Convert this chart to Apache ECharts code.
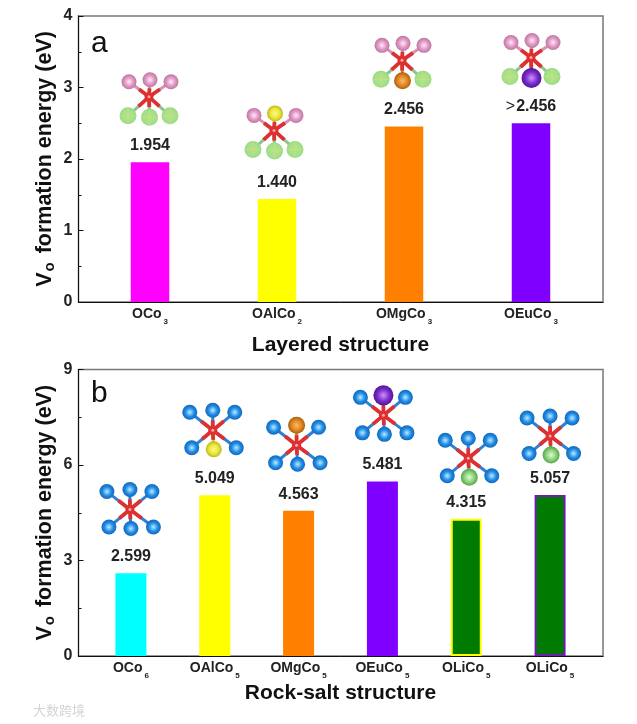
<!DOCTYPE html>
<html><head><meta charset="utf-8">
<style>html,body{margin:0;padding:0;background:#fff}#c{width:637px;height:724px}</style>
<script src="https://cdn.jsdelivr.net/npm/echarts@6/dist/echarts.min.js"></script>
</head><body><div id="c"></div>
<script>
const layeredCategories = ['OCo{s|3}', 'OAlCo{s|2}', 'OMgCo{s|3}', 'OEuCo{s|3}'];
const layeredValues = [1.954, 1.440, 2.456, 2.5];
const layeredLabels = ['1.954', '1.440', '2.456', '>2.456'];
const layeredColors = ['#ff00ff', '#ffff00', '#ff8000', '#8000ff'];
const layeredIconY = [2.87, 2.40, 3.38, 3.42];
const layeredIconDx = [-1, -3, -2, 0];
const layeredDopant = [null, ['top', 'yellow'], ['bottom', 'orange'], ['bottom', 'purple']];

const rockCategories = ['OCo{s|6}', 'OAlCo{s|5}', 'OMgCo{s|5}', 'OEuCo{s|5}', 'OLiCo{s|5}', 'OLiCo{s|5}'];
const rockValues = [2.599, 5.049, 4.563, 5.481, 4.315, 5.057];
const rockLabels = ['2.599', '5.049', '4.563', '5.481', '4.315', '5.057'];
const rockColors = ['#00ffff', '#ffff00', '#ff8000', '#8000ff', '#007a00', '#007a00'];
const rockBorders = [null, null, null, null, '#ffff00', '#6a1fb0'];
const rockIconY = [4.60, 7.09, 6.62, 7.56, 6.21, 6.91];
const rockIconDx = [-1, -2, -2, 1, 2, 0];
const rockDopant = [null, ['bottom', 'yellow'], ['top', 'orange'], ['top', 'purple'], ['bottom', 'lime'], ['bottom', 'lime']];

const FONT = '"Liberation Sans", Arial, sans-serif';
const BALLS = {
  pink:   {r: 7.5, c: ['#fdeaf6', '#e294c4', '#b87a9e'], bond: '#d98fb0'},
  leaf:   {r: 8.5, c: ['#aee492', '#a6e28c', '#9ada82'], bond: '#8cc48c', grid: true},
  blue:   {r: 7.5, c: ['#b8ecff', '#1f8ae4', '#1268bc'], bond: '#2f80d4'},
  yellow: {r: 8,   c: ['#fafa8c', '#eae636', '#bcb620'], bond: '#cfc84a'},
  orange: {r: 8.5, c: ['#f6bc68', '#e28420', '#a86210'], bond: '#d08030'},
  purple: {r: 10,  c: ['#cc94f6', '#7a2ccc', '#541494'], bond: '#5a2ab0'},
  lime:   {r: 8.5, c: ['#e2f8d4', '#88d278', '#58a44c'], bond: '#5f9f5f'}
};
const GEOM_LAYERED = {top: [[-20, -15], [1, -17], [22, -15]], bottom: [[-21, 19], [0.5, 20.5], [21, 19]]};
const GEOM_ROCK = {top: [[-23, -18], [0, -20], [22, -18]], bottom: [[-21, 17.5], [1, 19], [23.5, 17.5]]};

function ball(x, y, k) {
  const b = BALLS[k];
  const out = [{type: 'circle', shape: {cx: x, cy: y, r: b.r}, style: {fill: {
    type: 'radial', x: 0.5, y: 0.5, r: 0.5,
    colorStops: [{offset: 0, color: b.c[0]}, {offset: 0.6, color: b.c[1]}, {offset: 1, color: b.c[2]}]
  }}}];
  if (b.grid) {
    out.push({type: 'line', shape: {x1: x - b.r + 1, y1: y, x2: x + b.r - 1, y2: y}, style: {stroke: '#d8dc70', lineWidth: 0.8}});
    out.push({type: 'line', shape: {x1: x, y1: y - b.r + 1, x2: x, y2: y + b.r - 1}, style: {stroke: '#d8dc70', lineWidth: 0.8}});
  }
  return out;
}
function iconRenderer(geom, topKind, botKind, dopants, dxs) {
  return function (params, api) {
    const i = api.value(0);
    const p = api.coord([i, api.value(1)]);
    const cx = p[0] + dxs[i], cy = p[1];
    const d = dopants[i];
    const bonds = [], reds = [], balls = [];
    ['top', 'bottom'].forEach(function (row) {
      geom[row].forEach(function (a, j) {
        let kind = row === 'top' ? topKind : botKind;
        if (d && d[0] === row && j === 1) kind = d[1];
        const x = cx + a[0], y = cy + a[1];
        bonds.push({type: 'line', shape: {x1: cx, y1: cy, x2: x, y2: y}, style: {stroke: BALLS[kind].bond, lineWidth: 3}});
        reds.push({type: 'line', shape: {x1: cx, y1: cy, x2: cx + a[0] * 0.5, y2: cy + a[1] * 0.5}, style: {stroke: '#de3030', lineWidth: 3.8}});
        ball(x, y, kind).forEach(function (e) { balls.push(e); });
      });
    });
    const hub = [
      {type: 'circle', shape: {cx: cx, cy: cy, r: 4.5}, style: {fill: '#de3030'}},
      {type: 'circle', shape: {cx: cx, cy: cy, r: 1.5}, style: {fill: '#f8a8a8'}}
    ];
    return {type: 'group', children: bonds.concat(reds, hub, balls)};
  };
}

const tickRich = {s: {fontFamily: FONT, fontSize: 8, fontWeight: 'bold', color: '#222', padding: [15, 0, 0, 2]}};
const yNameRich = {
  m: {fontFamily: FONT, fontSize: 21.5, fontWeight: 'bold', color: '#111'},
  s: {fontFamily: FONT, fontSize: 15, fontWeight: 'bold', color: '#111', padding: [10, 3, 0, 1]}
};
const yName = '{m|V}{s|o}{m| formation energy (eV)}';

function frameYAxis(idx, max, interval) {
  return {
    gridIndex: idx, type: 'value', min: 0, max: max, interval: interval,
    name: yName, nameLocation: 'middle', nameGap: 21, nameRotate: 90, nameMoveOverlap: false, nameTextStyle: {rich: yNameRich},
    axisLine: {show: true, onZero: false, lineStyle: {color: '#111', width: 1}},
    axisTick: {show: true, inside: true, length: 5, lineStyle: {color: '#111'}},
    minorTick: {show: true, splitNumber: 2, length: 3, lineStyle: {color: '#111'}},
    splitLine: {show: false},
    axisLabel: {fontFamily: FONT, fontSize: 16, fontWeight: 'bold', color: '#222', margin: 6}
  };
}
function hiddenYAxis(idx, max) {
  return {gridIndex: idx, type: 'value', min: 0, max: max, show: false, splitLine: {show: false}};
}
function frameXAxis(idx) {
  return {gridIndex: idx, type: 'value', min: 0, max: 1, axisLabel: {show: false}, axisTick: {show: false},
    splitLine: {show: false}, axisLine: {show: true, onZero: false, lineStyle: {color: '#111', width: 1}}};
}
function barXAxis(idx, cats, title, gap, margin) {
  return {
    gridIndex: idx, type: 'category', data: cats,
    name: title, nameLocation: 'middle', nameGap: gap,
    nameTextStyle: {fontFamily: FONT, fontSize: 21, fontWeight: 'bold', color: '#111'},
    axisLine: {show: false}, axisTick: {show: false},
    axisLabel: {interval: 0, margin: margin, fontFamily: FONT, fontSize: 14, fontWeight: 'bold', color: '#222', rich: tickRich}
  };
}
function barSeries(axis, vals, labels, colors, borders, width) {
  return {
    type: 'bar', xAxisIndex: axis, yAxisIndex: axis, barWidth: width,
    data: vals.map(function (v, i) {
      return {value: v, itemStyle: borders && borders[i] ? {color: colors[i], borderColor: borders[i], borderWidth: 2} : {color: colors[i]}};
    }),
    label: {show: true, position: 'top', distance: 8.5, fontFamily: FONT, fontSize: 16, fontWeight: 'bold', color: '#222',
      rich: {g: {fontFamily: FONT, fontSize: 16, fontWeight: 'normal', color: '#222', padding: [0, 1, 0, 0]}},
      formatter: function (p) { return labels[p.dataIndex].replace('>', '{g|>}'); }}
  };
}
function iconSeries(axis, ys, geom, top, bot, dopants, dxs) {
  return {
    type: 'custom', xAxisIndex: axis, yAxisIndex: axis, clip: false, silent: true, z: 5,
    encode: {x: 0, y: 1},
    data: ys.map(function (y, i) { return [i, y]; }),
    renderItem: iconRenderer(geom, top, bot, dopants, dxs)
  };
}
const frameGrid = {show: true, borderColor: '#777', borderWidth: 1.5, backgroundColor: 'transparent'};

const chart = echarts.init(document.getElementById('c'), null, {renderer: 'canvas'});
chart.setOption({
  animation: false,
  backgroundColor: '#fff',
  title: [
    {text: 'a', left: 86, top: 24, textStyle: {fontFamily: FONT, fontSize: 30, fontWeight: 'normal', color: '#111'}},
    {text: 'b', left: 86, top: 374, textStyle: {fontFamily: FONT, fontSize: 30, fontWeight: 'normal', color: '#111'}},
    {text: '大数跨境', left: 28, top: 699, textStyle: {fontFamily: '"Noto Sans CJK SC"', fontSize: 13, fontWeight: 'normal', color: '#d4d4d4'}}
  ],
  grid: [
    Object.assign({left: 78.5, width: 524.5, top: 16, height: 286}, frameGrid),
    {left: 86.5, width: 508, top: 16, height: 286},
    Object.assign({left: 78.5, width: 524.5, top: 369.5, height: 286.5}, frameGrid),
    {left: 89, width: 503, top: 369.5, height: 286.5}
  ],
  xAxis: [
    frameXAxis(0),
    barXAxis(1, layeredCategories, 'Layered structure', 33, 1),
    frameXAxis(2),
    barXAxis(3, rockCategories, 'Rock-salt structure', 27, 1)
  ],
  yAxis: [
    frameYAxis(0, 4, 1),
    hiddenYAxis(1, 4),
    frameYAxis(2, 9, 3),
    hiddenYAxis(3, 9)
  ],
  series: [
    barSeries(1, layeredValues, layeredLabels, layeredColors, null, 38.5),
    iconSeries(1, layeredIconY, GEOM_LAYERED, 'pink', 'leaf', layeredDopant, layeredIconDx),
    barSeries(3, rockValues, rockLabels, rockColors, rockBorders, 31),
    iconSeries(3, rockIconY, GEOM_ROCK, 'blue', 'blue', rockDopant, rockIconDx)
  ]
});
</script></body></html>
